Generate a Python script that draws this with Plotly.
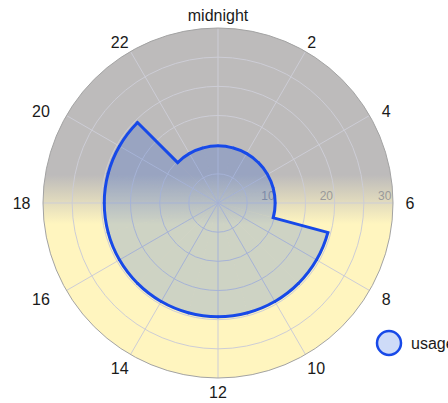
import base64
import plotly.graph_objects as go

# Hourly usage (hour h covers the interval h..h+1)
hours = list(range(24))
usage = [9.8, 9.8, 9.8, 9.8, 9.8, 9.8, 9.8,
         19.5, 19.5, 19.5, 19.5, 19.5, 19.5, 19.5,
         19.5, 19.5, 19.5, 19.5, 19.5, 19.5, 19.5,
         9.8, 9.8, 9.8]

hour_ticks = list(range(0, 24, 2))
hour_labels = ["midnight", "2", "4", "6", "8", "10",
               "12", "14", "16", "18", "20", "22"]
radial_ticks = [5, 10, 15, 20, 25, 30]
radial_labels = ["", "10", "", "20", "", "30"]

DEG_PER_HOUR = 360 / 24
R_MAX = 30

W, H = 448, 403
ML, MR, MT, MB = 43, 55, 28, 25
pw, ph = W - ML - MR, H - MT - MB
PX_PER_UNIT = (min(pw, ph) / 2) / R_MAX

LINE = "#1749e8"
FILL = "rgba(10,73,220,0.2)"
LINE_W = 3
half = (LINE_W / 2) / PX_PER_UNIT   # half line width in radial units

theta = [h * DEG_PER_HOUR for h in hours]

fig = go.Figure()

# shaded hourly sectors
fig.add_trace(go.Barpolar(
    r=usage, theta=theta, width=DEG_PER_HOUR, offset=0,
    marker=dict(color=FILL, line=dict(width=0)),
    name="usage", showlegend=False, hoverinfo="skip",
))

# outer edge of each hour sector, drawn as a thin ring segment
fig.add_trace(go.Barpolar(
    r=[2 * half] * len(usage), base=[v - half for v in usage],
    theta=theta, width=DEG_PER_HOUR + 0.4, offset=-0.2,
    marker=dict(color=LINE, line=dict(width=0)),
    showlegend=False, hoverinfo="skip",
))

# radial edges where the hourly value changes
edge_r, edge_t = [], []
for h in hours:
    prev, cur = usage[h - 1], usage[h]
    if prev != cur:
        lo, hi = min(prev, cur), max(prev, cur)
        edge_r += [lo - half, hi + half, None]
        edge_t += [h * DEG_PER_HOUR, h * DEG_PER_HOUR, None]
fig.add_trace(go.Scatterpolar(
    r=edge_r, theta=edge_t, mode="lines",
    line=dict(color=LINE, width=LINE_W),
    showlegend=False, hoverinfo="skip",
))

# night/day backdrop: grey sky fading into pale yellow
svg = (
    "<svg xmlns='http://www.w3.org/2000/svg' width='350' height='350' viewBox='0 0 350 350'>"
    "<defs><linearGradient id='g' x1='0' y1='0' x2='0' y2='1'>"
    "<stop offset='0.42' stop-color='#bdbbbb'/>"
    "<stop offset='0.56' stop-color='#fff5bf'/>"
    "</linearGradient></defs>"
    "<circle cx='175' cy='175' r='175' fill='url(#g)'/></svg>"
)
bg_src = "data:image/svg+xml;base64," + base64.b64encode(svg.encode()).decode()

def px_x(x):
    return (x - ML) / pw

def px_y(y):
    return 1 - (y - MT) / ph

# extra breathing room for the side labels (non-breaking spaces keep it)
NB = "\u00a0"
pad = {"4": 2, "6": 2, "8": 2, "16": 3, "18": 2, "20": 3}
tick_text = []
for lab in hour_labels:
    n = pad.get(lab, 0)
    if lab in ("4", "6", "8"):
        tick_text.append(NB * n + lab)
    else:
        tick_text.append(lab + NB * n)

radial_text = [t + NB * 5 if t else t for t in radial_labels]

fig.update_layout(
    width=W, height=H,
    margin=dict(l=ML, r=MR, t=MT, b=MB, pad=0),
    paper_bgcolor="white",
    font=dict(family="Liberation Sans, Arial, sans-serif", size=16, color="#1a1a1a"),
    showlegend=False,
    images=[dict(
        source=bg_src, xref="paper", yref="paper", x=0, y=1,
        sizex=1, sizey=1, xanchor="left", yanchor="top",
        sizing="stretch", layer="below",
    )],
    polar=dict(
        domain=dict(x=[0, 1], y=[0, 1]),
        bgcolor="rgba(0,0,0,0)",
        barmode="overlay",
        angularaxis=dict(
            direction="clockwise", rotation=90, thetaunit="degrees",
            tickmode="array",
            tickvals=[h * DEG_PER_HOUR for h in hour_ticks],
            ticktext=tick_text,
            ticks="", showline=True, linecolor="#a3a3a3", linewidth=1,
            gridcolor="#cdcdd6", gridwidth=1, layer="below traces",
            tickfont=dict(size=16, color="#1a1a1a"),
        ),
        radialaxis=dict(
            range=[0, R_MAX], angle=0, side="counterclockwise",
            tickmode="array", tickvals=radial_ticks, ticktext=radial_text,
            ticks="", showline=False, layer="below traces",
            gridcolor="#cdcdd6", gridwidth=1,
            tickfont=dict(size=12, color="#9a9a9a"),
        ),
    ),
    shapes=[dict(
        type="circle", xref="paper", yref="paper",
        x0=px_x(377), x1=px_x(401), y0=px_y(355), y1=px_y(331),
        line=dict(color=LINE, width=2.5), fillcolor="#cedbf8",
    )],
    annotations=[dict(
        text="usage", xref="paper", yref="paper",
        x=px_x(409), y=px_y(343), xanchor="left", yanchor="middle",
        showarrow=False, font=dict(size=16, color="#1a1a1a"),
    )],
)

fig.write_html("out.html")
